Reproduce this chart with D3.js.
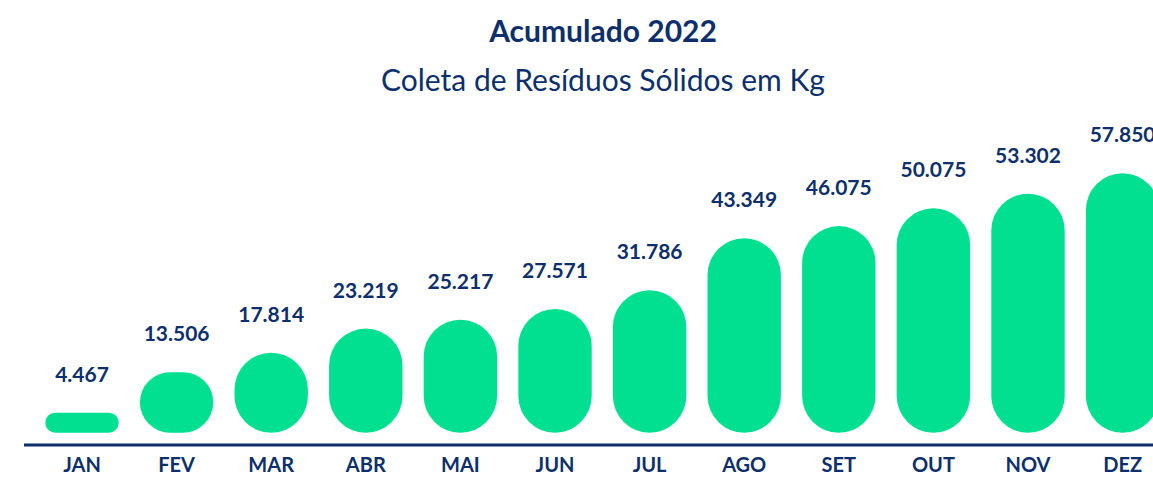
<!DOCTYPE html>
<html>
<head>
<meta charset="utf-8">
<script src="https://cdn.jsdelivr.net/npm/d3@7"></script>
<style>
    html, body { margin: 0; padding: 0; background: #fff; overflow: hidden; }
    text { font-family: Lato, "Open Sans", sans-serif; fill: #0d2f6b; }
</style>
</head>
<body>
<div id="chart"></div>
<script>
const months = ["JAN", "FEV", "MAR", "ABR", "MAI", "JUN", "JUL", "AGO", "SET", "OUT", "NOV", "DEZ"];
const accumulated = [4467, 13506, 17814, 23219, 25217, 27571, 31786, 43349, 46075, 50075, 53302, 57850];

const width = 1153, height = 482;
const navy = "#0d2f6b", green = "#00e090";

const ptBR = d3.formatLocale({ decimal: ",", thousands: ".", grouping: [3], currency: ["R$", ""] });
const fmt = ptBR.format(",d");

const svg = d3.select("#chart").append("svg")
    .attr("width", width)
    .attr("height", height);

// titles
svg.append("text")
    .attr("x", 603).attr("y", 42)
    .attr("text-anchor", "middle")
    .style("font-size", "30px")
    .style("font-weight", 700)
    .text("Acumulado 2022");

svg.append("text")
    .attr("x", 603).attr("y", 91)
    .attr("text-anchor", "middle")
    .style("font-size", "30px")
    .style("font-weight", 400)
    .text("Coleta de Resíduos Sólidos em Kg");

// scales
const x = d3.scaleBand()
    .domain(months)
    .range([34.7, 34.7 + 12 * 94.6])
    .paddingInner(0.224)
    .paddingOuter(0.112);

const barBottom = 432.7;
const y = d3.scaleLinear()
    .domain([0, d3.max(accumulated)])
    .range([barBottom, 173.3]);

const data = months.map((m, i) => ({ month: m, value: accumulated[i] }));

// bars (pill shaped)
svg.selectAll(".bar")
    .data(data)
    .enter().append("rect")
    .attr("class", "bar")
    .attr("x", d => x(d.month))
    .attr("y", d => y(d.value))
    .attr("width", x.bandwidth())
    .attr("height", d => barBottom - y(d.value))
    .attr("rx", d => Math.min(x.bandwidth() / 2, (barBottom - y(d.value)) / 2))
    .attr("ry", d => Math.min(x.bandwidth() / 2, (barBottom - y(d.value)) / 2))
    .style("fill", green);

// value labels
svg.selectAll(".value")
    .data(data)
    .enter().append("text")
    .attr("class", "value")
    .attr("x", d => x(d.month) + x.bandwidth() / 2)
    .attr("y", d => y(d.value) - 31)
    .attr("text-anchor", "middle")
    .style("font-size", "21px")
    .style("font-weight", 700)
    .text(d => fmt(d.value));

// baseline
svg.append("line")
    .attr("x1", 24).attr("x2", width)
    .attr("y1", 445).attr("y2", 445)
    .style("stroke", navy)
    .style("stroke-width", 3);

// month axis
const axis = svg.append("g")
    .attr("transform", "translate(0,445)")
    .call(d3.axisBottom(x).tickSize(0).tickPadding(13));
axis.select(".domain").remove();
axis.selectAll("text")
    .attr("dy", "0.71em")
    .style("font-size", "20px")
    .style("font-weight", 700)
    .style("font-family", "Lato, 'Open Sans', sans-serif")
    .style("fill", navy);
</script>
</body>
</html>
